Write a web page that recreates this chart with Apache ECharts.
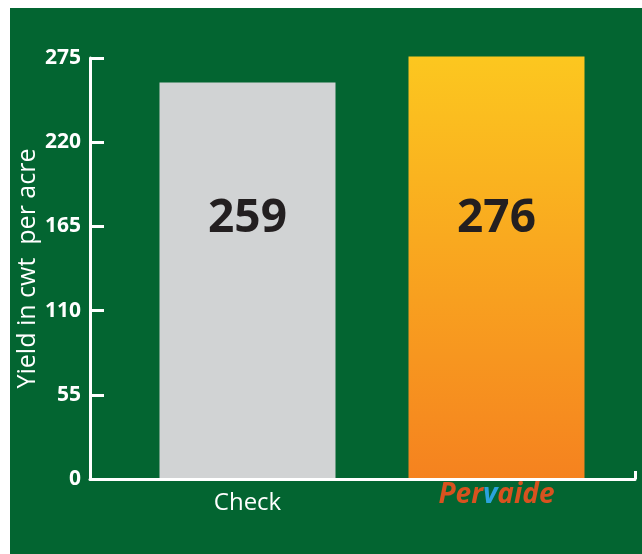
<!DOCTYPE html>
<html>
<head>
<meta charset="utf-8">
<script src="https://cdn.jsdelivr.net/npm/echarts@6/dist/echarts.min.js"></script>
<style>
  html, body { margin: 0; padding: 0; background: #ffffff; }
  #chart {
    position: absolute;
    left: 10px;
    top: 8px;
    width: 632px;
    height: 546px;
    background: #036531;
  }
</style>
</head>
<body>
<div id="chart"></div>
<script>
// data
const categories = ['Check', 'Pervaide']
const yields = [259, 276]
const yTicks = [0, 55, 110, 165, 220, 275]
const axisName = 'Yield in cwt  per acre'
// value height where the big numbers sit
const labelLevel = 170

const yMin = yTicks[0]
const yMax = yTicks[yTicks.length - 1]
const yStep = yTicks[1] - yTicks[0]

const chart = echarts.init(document.getElementById('chart'))

const barColors = [
  '#d1d3d4',
  {
    type: 'linear', x: 0, y: 0, x2: 0, y2: 1,
    colorStops: [
      { offset: 0, color: '#fcc71f' },
      { offset: 1, color: '#f5821f' }
    ]
  }
]

// brand text style for the second category
const brand = { fontSize: 28, lineHeight: 8, fontWeight: 'bold', fontStyle: 'italic', fontFamily: '"Open Sans", sans-serif' }

const option = {
  animation: false,
  textStyle: { fontFamily: '"Open Sans", sans-serif' },
  grid: [
    // axes frame
    { left: 80, right: 7, top: 50, bottom: 75, outerBoundsMode: 'none', containLabel: false },
    // bars
    { left: 113, right: 21, top: 50, bottom: 75, outerBoundsMode: 'none', containLabel: false }
  ],
  xAxis: [
    {
      gridIndex: 0,
      type: 'value',
      min: 0,
      max: 1,
      interval: 1,
      z: 10,
      axisLine: { lineStyle: { color: '#ffffff', width: 3 } },
      axisTick: { show: true, inside: true, length: 8, lineStyle: { color: '#ffffff', width: 3 } },
      axisLabel: { show: false },
      splitLine: { show: false }
    },
    {
      gridIndex: 1,
      type: 'category',
      data: categories,
      axisLine: { show: false },
      axisTick: { show: false },
      axisLabel: {
        interval: 0,
        hideOverlap: false,
        margin: 12,
        color: '#ffffff',
        fontSize: 24,
        formatter: (v) => v === 'Pervaide' ? '{p|Per}{v|v}{p|aide}' : v,
        rich: {
          p: Object.assign({ color: '#d8521f' }, brand),
          v: Object.assign({ color: '#2ba3dc' }, brand)
        }
      }
    }
  ],
  yAxis: [
    {
      gridIndex: 0,
      type: 'value',
      min: yMin,
      max: yMax,
      interval: yStep,
      z: 10,
      name: axisName,
      nameLocation: 'middle',
      nameRotate: 90,
      nameGap: 50,
      nameMoveOverlap: false,
      nameTextStyle: { color: '#ffffff', fontSize: 25 },
      axisLine: { show: true, lineStyle: { color: '#ffffff', width: 3 } },
      axisTick: { show: true, inside: true, length: 14, lineStyle: { color: '#ffffff', width: 3 } },
      axisLabel: { color: '#ffffff', fontSize: 21, fontWeight: 'bold', margin: 9 },
      splitLine: { show: false }
    },
    {
      gridIndex: 1,
      type: 'value',
      min: yMin,
      max: yMax,
      show: false
    }
  ],
  series: [
    {
      type: 'bar',
      xAxisIndex: 1,
      yAxisIndex: 1,
      clip: false,
      barWidth: 176,
      data: yields.map((v, i) => ({ value: v, itemStyle: { color: barColors[i] } }))
    },
    {
      type: 'scatter',
      xAxisIndex: 1,
      yAxisIndex: 1,
      symbolSize: 0,
      itemStyle: { opacity: 1 },
      data: yields.map((v, i) => [i, labelLevel]),
      label: {
        show: true,
        position: 'inside',
        formatter: (p) => String(yields[p.dataIndex]),
        color: '#231f20',
        fontSize: 46,
        fontWeight: 'bold'
      }
    }
  ]
}

chart.setOption(option)
</script>
</body>
</html>
